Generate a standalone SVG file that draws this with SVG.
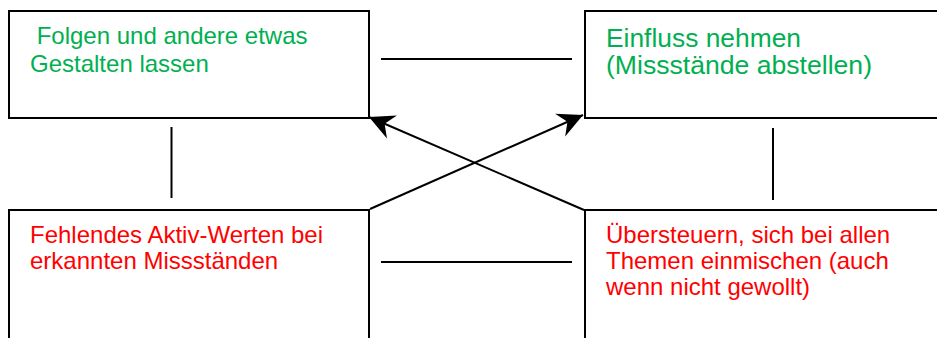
<svg xmlns="http://www.w3.org/2000/svg" width="937" height="338" viewBox="0 0 937 338">
  <style>
    .box { fill: #ffffff; stroke: #000000; stroke-width: 2; }
    .txt { font-family: "Liberation Sans", Arial, sans-serif; font-size: 24px; }
    .big { font-size: 25px; }
    .green { fill: #00b050; }
    .red { fill: #ff0000; }
    .link { stroke: #000000; stroke-width: 2; fill: none; }
  </style>
  <defs>
    <marker id="stealth" markerUnits="userSpaceOnUse" viewBox="-26 -14 28 28" refX="0" refY="0" markerWidth="28" markerHeight="28" orient="auto">
      <path d="M0,0 L-25,-12.5 L-17,0 L-25,12.5 Z" fill="#000000"/>
    </marker>
  </defs>

  <rect width="937" height="338" fill="#ffffff"/>

  <g id="node-folgen">
    <rect class="box" x="9" y="11" width="360" height="107"/>
    <text class="txt green" xml:space="preserve"><tspan x="30" y="44"> Folgen und andere etwas</tspan><tspan x="30" y="72">Gestalten lassen</tspan></text>
  </g>

  <g id="node-einfluss">
    <rect class="box" x="585" y="11" width="362" height="107"/>
    <text class="txt big green"><tspan x="606" y="47" textLength="195" lengthAdjust="spacingAndGlyphs">Einfluss nehmen</tspan><tspan x="606" y="74" textLength="266" lengthAdjust="spacingAndGlyphs">(Missstände abstellen)</tspan></text>
  </g>

  <g id="node-fehlendes">
    <rect class="box" x="9" y="210" width="360" height="140"/>
    <text class="txt red"><tspan x="30" y="243">Fehlendes Aktiv-Werten bei</tspan><tspan x="30" y="269">erkannten Missständen</tspan></text>
  </g>

  <g id="node-uebersteuern">
    <rect class="box" x="585" y="210" width="362" height="140"/>
    <text class="txt red"><tspan x="606" y="243">Übersteuern, sich bei allen</tspan><tspan x="606" y="269">Themen einmischen (auch</tspan><tspan x="606" y="295">wenn nicht gewollt)</tspan></text>
  </g>

  <g id="connectors">
    <line class="link" x1="381" y1="59" x2="572" y2="59"/>
    <line class="link" x1="381" y1="262" x2="572" y2="262"/>
    <line class="link" x1="171.5" y1="127" x2="171.5" y2="198"/>
    <line class="link" x1="773" y1="128" x2="773" y2="200"/>
    <line class="link" x1="370" y1="209" x2="583" y2="115" marker-end="url(#stealth)"/>
    <line class="link" x1="584" y1="210" x2="369" y2="117" marker-end="url(#stealth)"/>
  </g>
</svg>
